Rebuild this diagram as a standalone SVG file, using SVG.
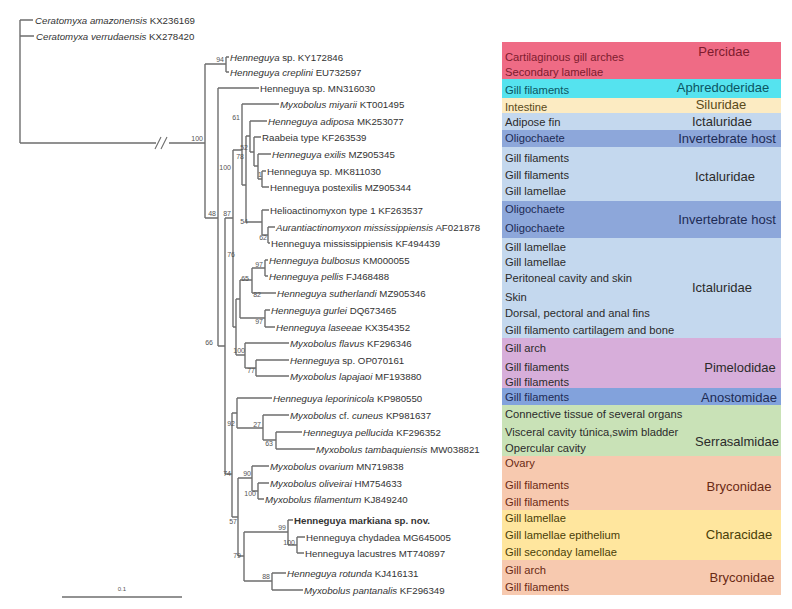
<svg xmlns="http://www.w3.org/2000/svg" width="792" height="609" viewBox="0 0 792 609">
<style>
.br{fill:none;stroke:#6e6e6e;stroke-width:1.4}
.tip{font-family:"Liberation Sans",Arial,sans-serif;font-size:9.7px;fill:#333}
.i{font-style:italic}
.bs{font-family:"Liberation Sans",Arial,sans-serif;font-size:7px;fill:#555;text-anchor:end}
.cell{font-family:"Liberation Sans",Arial,sans-serif;font-size:11.2px;fill:#2b2b2b}
.fam{font-family:"Liberation Sans",Arial,sans-serif;font-size:13px;fill:#2b2b2b;text-anchor:middle}
</style>
<rect width="792" height="609" fill="#fff"/>

<g id="table">
<rect x="502" y="42" width="279" height="37" fill="#EF6B85"/>
<rect x="502" y="79" width="279" height="19" fill="#55E3EF"/>
<rect x="502" y="98" width="279" height="15" fill="#FCEBC2"/>
<rect x="502" y="113" width="279" height="17" fill="#C4D8EE"/>
<rect x="502" y="130" width="279" height="17" fill="#8DA7DA"/>
<rect x="502" y="147" width="279" height="54" fill="#C4D8EE"/>
<rect x="502" y="201" width="279" height="37" fill="#8DA7DA"/>
<rect x="502" y="238" width="279" height="100" fill="#C4D8EE"/>
<rect x="502" y="338" width="279" height="50" fill="#D7AEDA"/>
<rect x="502" y="388" width="279" height="17" fill="#82A2DC"/>
<rect x="502" y="405" width="279" height="51" fill="#C9E2B7"/>
<rect x="502" y="456" width="279" height="54" fill="#F7C9AF"/>
<rect x="502" y="510" width="279" height="50" fill="#FFE69E"/>
<rect x="502" y="560" width="279" height="35" fill="#F7C9AF"/>

<text class="cell" x="505" y="61" style="fill:#7d1b2e">Cartilaginous gill arches</text>
<text class="cell" x="505" y="76" style="fill:#7d1b2e">Secondary lamellae</text>
<text class="cell" x="505" y="94" style="fill:#0b5563">Gill filaments</text>
<text class="cell" x="505" y="111" style="fill:#5a4a1a">Intestine</text>
<text class="cell" x="505" y="126">Adipose fin</text>
<text class="cell" x="505" y="142" style="fill:#1d2b55">Oligochaete</text>
<text class="cell" x="505" y="162">Gill filaments</text>
<text class="cell" x="505" y="179">Gill filaments</text>
<text class="cell" x="505" y="195">Gill lamellae</text>
<text class="cell" x="505" y="213" style="fill:#1d2b55">Oligochaete</text>
<text class="cell" x="505" y="232" style="fill:#1d2b55">Oligochaete</text>
<text class="cell" x="505" y="251">Gill lamellae</text>
<text class="cell" x="505" y="266">Gill lamellae</text>
<text class="cell" x="505" y="282">Peritoneal cavity and skin</text>
<text class="cell" x="505" y="301">Skin</text>
<text class="cell" x="505" y="317">Dorsal, pectoral and anal fins</text>
<text class="cell" x="505" y="334">Gill filamento cartilagem and bone</text>
<text class="cell" x="505" y="352">Gill arch</text>
<text class="cell" x="505" y="371">Gill filaments</text>
<text class="cell" x="505" y="386">Gill filaments</text>
<text class="cell" x="505" y="401" style="fill:#1d2b55">Gill filaments</text>
<text class="cell" x="505" y="418">Connective tissue of several organs</text>
<text class="cell" x="505" y="436">Visceral cavity túnica,swim  bladder</text>
<text class="cell" x="505" y="452">Opercular cavity</text>
<text class="cell" x="505" y="467" style="fill:#6a2a14">Ovary</text>
<text class="cell" x="505" y="489" style="fill:#6a2a14">Gill filaments</text>
<text class="cell" x="505" y="506" style="fill:#6a2a14">Gill filaments</text>
<text class="cell" x="505" y="522" style="fill:#4a3e08">Gill lamellae</text>
<text class="cell" x="505" y="539" style="fill:#4a3e08">Gill lamellae epithelium</text>
<text class="cell" x="505" y="556" style="fill:#4a3e08">Gill seconday lamellae</text>
<text class="cell" x="505" y="574" style="fill:#6a2a14">Gill arch</text>
<text class="cell" x="505" y="591" style="fill:#6a2a14">Gill filaments</text>

<text class="fam" x="724" y="56" style="fill:#7d1b2e">Percidae</text>
<text class="fam" x="723" y="92" style="fill:#0b5563">Aphredoderidae</text>
<text class="fam" x="721" y="109" style="fill:#5a4a1a">Siluridae</text>
<text class="fam" x="722" y="126">Ictaluridae</text>
<text class="fam" x="727" y="143" style="fill:#1d2b55">Invertebrate  host</text>
<text class="fam" x="725" y="181">Ictaluridae</text>
<text class="fam" x="727" y="224" style="fill:#1d2b55">Invertebrate  host</text>
<text class="fam" x="722" y="292">Ictaluridae</text>
<text class="fam" x="740" y="372">Pimelodidae</text>
<text class="fam" x="739" y="402" style="fill:#1d2b55">Anostomidae</text>
<text class="fam" x="737" y="446">Serrasalmidae</text>
<text class="fam" x="739" y="491" style="fill:#6a2a14">Bryconidae</text>
<text class="fam" x="739" y="539" style="fill:#4a3e08">Characidae</text>
<text class="fam" x="742" y="582" style="fill:#6a2a14">Bryconidae</text>
</g>

<g id="connectors" class="br">
<path d="M20,20V143M20,20H33M20,36H34M20,143H156M169,143H205"/>
<path d="M155,149L161,137M161,149L167,137" stroke-width="1.1"/>
<path d="M205,64V218M205,64H226M226,57V72M226,57H229M226,72H229M205,218H218"/>
<path d="M218,88V346M218,88H259M218,346H225"/>
<path d="M225,218V474M225,218H233M225,474H232"/>
<path d="M233,150V327M233,150H242M233,327H236"/>
<path d="M242,104V185M242,104H279M242,185H246"/>
<path d="M246,136V222M246,136H250M246,222H262"/>
<path d="M250,121V152M250,121H267M250,152H254"/>
<path d="M254,137V166M254,137H261M254,166H258"/>
<path d="M258,154V179M258,154H271M258,179H262"/>
<path d="M262,171V187M262,171H266M262,187H269"/>
<path d="M262,210V235M262,210H269M262,235H268"/>
<path d="M268,227V243M268,227H275M268,243H270"/>
<path d="M236,299V355M236,299H240M236,355H245"/>
<path d="M240,280V318M240,280H252M240,318H265"/>
<path d="M252,268V293M252,268H265M252,293H276"/>
<path d="M265,260V276M265,260H268M265,276H268"/>
<path d="M265,310V327M265,310H270M265,327H275"/>
<path d="M245,343V368M245,343H289M245,368H256"/>
<path d="M256,360V376M256,360H289M256,376H289"/>
<path d="M232,413V517M232,413H237M232,517H238"/>
<path d="M237,398V428M237,398H272M237,428H263"/>
<path d="M263,415V440M263,415H289M263,440H276"/>
<path d="M276,432V449M276,432H302M276,449H315"/>
<path d="M238,478V556M238,478H252M238,556H244"/>
<path d="M252,466V491M252,466H269M252,491H258"/>
<path d="M258,483V499M258,483H269M258,499H264"/>
<path d="M244,532V581M244,532H288M244,581H272"/>
<path d="M288,520V545M288,520H293M288,545H297"/>
<path d="M297,537V553M297,537H305M297,553H304"/>
<path d="M272,573V590M272,573H286M272,590H303"/>
<path d="M62,597H182"/>
</g>

<g id="support">
<text class="bs" x="203" y="141">100</text>
<text class="bs" x="224" y="62">94</text>
<text class="bs" x="216" y="216">48</text>
<text class="bs" x="213" y="345">66</text>
<text class="bs" x="231" y="216">87</text>
<text class="bs" x="240" y="120">61</text>
<text class="bs" x="231" y="170">100</text>
<text class="bs" x="248" y="150">52</text>
<text class="bs" x="244" y="159">78</text>
<text class="bs" x="262" y="177">1</text>
<text class="bs" x="248" y="224">54</text>
<text class="bs" x="267" y="240">62</text>
<text class="bs" x="235" y="257">76</text>
<text class="bs" x="249" y="281">65</text>
<text class="bs" x="263" y="267">97</text>
<text class="bs" x="261" y="297">82</text>
<text class="bs" x="263" y="324">97</text>
<text class="bs" x="245" y="353">100</text>
<text class="bs" x="255" y="373">77</text>
<text class="bs" x="235" y="426">92</text>
<text class="bs" x="261" y="427">27</text>
<text class="bs" x="273" y="446">63</text>
<text class="bs" x="231" y="476">74</text>
<text class="bs" x="251" y="476">90</text>
<text class="bs" x="256" y="496">100</text>
<text class="bs" x="237" y="524">57</text>
<text class="bs" x="241" y="558">79</text>
<text class="bs" x="286" y="530">99</text>
<text class="bs" x="295" y="545">100</text>
<text class="bs" x="270" y="579">88</text>
<text class="bs" x="126" y="591" style="font-size:6px">0.1</text>
</g>

<g id="taxa" class="tip">
<text x="35" y="23.5"><tspan class="i">Ceratomyxa amazonensis</tspan> KX236169</text>
<text x="36" y="39.5"><tspan class="i">Ceratomyxa verrudaensis</tspan> KX278420</text>
<text x="230" y="60.5"><tspan class="i">Henneguya</tspan> sp. KY172846</text>
<text x="230" y="75.5"><tspan class="i">Henneguya creplini</tspan> EU732597</text>
<text x="260" y="91.5">Henneguya sp. MN316030</text>
<text x="280" y="107.5"><tspan class="i">Myxobolus miyarii</tspan> KT001495</text>
<text x="268" y="124.5"><tspan class="i">Henneguya adiposa</tspan> MK253077</text>
<text x="262" y="140.5">Raabeia type KF263539</text>
<text x="272" y="157.5"><tspan class="i">Henneguya exilis</tspan> MZ905345</text>
<text x="267" y="174.5">Henneguya sp. MK811030</text>
<text x="270" y="190.5">Henneguya postexilis MZ905344</text>
<text x="270" y="213.5">Helioactinomyxon type 1 KF263537</text>
<text x="276" y="230.5"><tspan class="i">Aurantiactinomyxon mississippiensis</tspan> AF021878</text>
<text x="271" y="246.5">Henneguya mississippiensis KF494439</text>
<text x="269" y="263.5"><tspan class="i">Henneguya bulbosus</tspan> KM000055</text>
<text x="269" y="279.5"><tspan class="i">Henneguya pellis</tspan> FJ468488</text>
<text x="277" y="296.5"><tspan class="i">Henneguya sutherlandi</tspan> MZ905346</text>
<text x="271" y="313.5"><tspan class="i">Henneguya gurlei</tspan> DQ673465</text>
<text x="276" y="330.5"><tspan class="i">Henneguya laseeae</tspan> KX354352</text>
<text x="290" y="346.5"><tspan class="i">Myxobolus flavus</tspan> KF296346</text>
<text x="290" y="363.5"><tspan class="i">Henneguya</tspan> sp.  OP070161</text>
<text x="290" y="379.5"><tspan class="i">Myxobolus lapajaoi</tspan> MF193880</text>
<text x="273" y="401.5"><tspan class="i">Henneguya leporinicola</tspan> KP980550</text>
<text x="290" y="418.5"><tspan class="i">Myxobolus</tspan> cf. <tspan class="i">cuneus</tspan> KP981637</text>
<text x="303" y="435.5"><tspan class="i">Henneguya pellucida</tspan> KF296352</text>
<text x="316" y="452.5"><tspan class="i">Myxobolus tambaquiensis</tspan> MW038821</text>
<text x="270" y="469.5"><tspan class="i">Myxobolus ovarium</tspan> MN719838</text>
<text x="270" y="486.5"><tspan class="i">Myxobolus oliveirai</tspan> HM754633</text>
<text x="265" y="502.5"><tspan class="i">Myxobolus filamentum</tspan> KJ849240</text>
<text x="294" y="523.5" font-weight="bold">Henneguya markiana sp. nov.</text>
<text x="306" y="540.5">Henneguya chydadea MG645005</text>
<text x="305" y="556.5">Henneguya lacustres MT740897</text>
<text x="287" y="576.5"><tspan class="i">Henneguya rotunda</tspan> KJ416131</text>
<text x="304" y="593.5"><tspan class="i">Myxobolus pantanalis</tspan> KF296349</text>
</g>
</svg>
